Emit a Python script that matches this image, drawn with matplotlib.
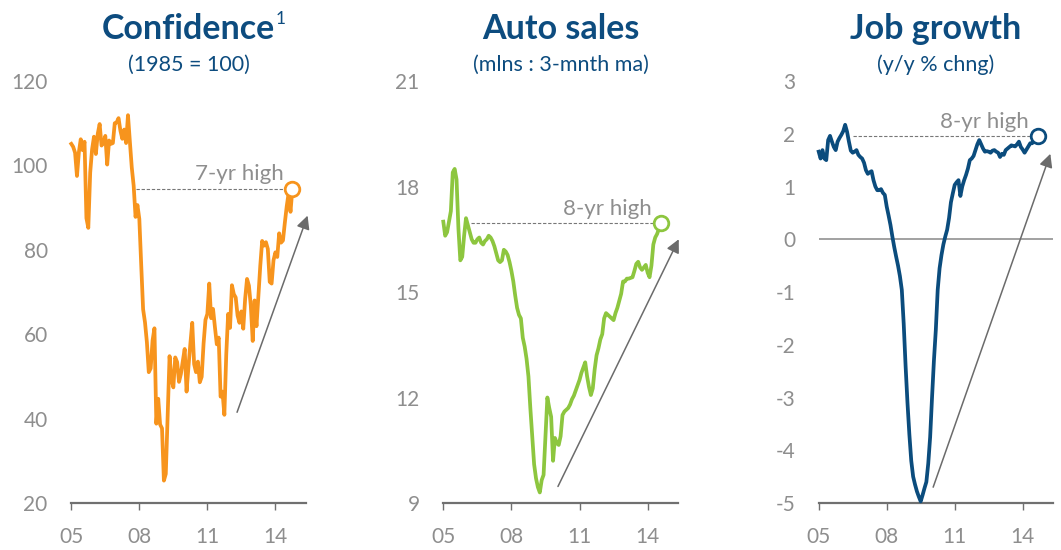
import matplotlib
matplotlib.use("Agg")
import matplotlib.pyplot as plt
import numpy as np

plt.rcParams['font.family'] = ['Lato', 'DejaVu Sans']

# ---------------- data (monthly, starting Jan 2005) ----------------
start_year = 2005

confidence = [
    105.1, 104.4, 103.0, 97.5, 103.1, 106.2, 103.6, 105.6, 87.5, 85.2, 98.3, 103.8,   # 2005
    106.8, 102.7, 107.5, 109.8, 104.7, 105.4, 107.0, 100.2, 105.9, 105.1, 105.3, 110.0,  # 2006
    110.2, 111.2, 108.2, 106.3, 108.5, 105.3, 111.9, 105.6, 99.5, 95.2, 87.8, 90.6,   # 2007
    87.3, 76.4, 65.9, 62.8, 58.1, 51.0, 51.9, 58.5, 61.4, 38.8, 44.7, 38.6,           # 2008
    37.7, 25.3, 26.9, 40.8, 54.8, 49.3, 47.4, 54.5, 53.4, 48.7, 50.6, 53.6,           # 2009
    56.5, 46.4, 52.3, 57.7, 62.7, 52.9, 51.0, 53.5, 48.6, 49.9, 57.8, 63.4,           # 2010
    64.8, 72.0, 63.8, 66.0, 61.7, 57.6, 59.2, 45.2, 46.4, 40.9, 55.2, 64.8,           # 2011
    61.5, 71.6, 69.5, 68.7, 64.4, 62.7, 65.4, 61.3, 68.4, 73.1, 71.5, 66.7,           # 2012
    58.4, 68.0, 61.9, 69.0, 76.2, 82.1, 81.0, 81.8, 80.2, 72.4, 72.0, 77.5,           # 2013
    79.4, 78.3, 83.9, 81.7, 82.2, 86.4, 90.3, 93.4, 89.0, 94.5,                       # 2014
]

auto_sales = [
    17.0, 16.6, 16.7, 17.0, 17.3, 18.4, 18.5, 18.2, 16.8, 15.9, 16.0, 16.6,           # 2005
    17.1, 16.9, 16.7, 16.5, 16.4, 16.4, 16.5, 16.55, 16.4, 16.35, 16.45, 16.5,        # 2006
    16.6, 16.55, 16.45, 16.3, 16.1, 15.9, 15.85, 15.9, 16.2, 16.15, 16.05, 15.85,     # 2007
    15.6, 15.3, 14.9, 14.55, 14.35, 14.25, 13.7, 13.45, 13.1, 12.6, 11.7, 10.9,       # 2008
    10.1, 9.7, 9.45, 9.3, 9.65, 9.8, 10.9, 12.0, 11.7, 11.45, 10.2, 10.85,            # 2009
    10.7, 10.65, 10.9, 11.5, 11.6, 11.65, 11.7, 11.8, 11.95, 12.05, 12.2, 12.35,      # 2010
    12.5, 12.7, 12.85, 13.0, 12.6, 12.3, 12.07, 12.26, 12.8, 13.2, 13.4, 13.65,       # 2011
    13.8, 14.25, 14.4, 14.35, 14.3, 14.25, 14.2, 14.4, 14.55, 14.75, 14.95, 15.3,     # 2012
    15.3, 15.38, 15.38, 15.4, 15.42, 15.6, 15.8, 15.86, 15.7, 15.63, 15.7, 15.77,     # 2013
    15.55, 15.42, 15.75, 16.35, 16.55, 16.65, 16.8, 16.95,                            # 2014
]

job_growth = [
    1.66, 1.53, 1.69, 1.53, 1.50, 1.88, 1.96, 1.85, 1.75, 1.69, 1.85, 1.92,           # 2005
    1.98, 2.05, 2.17, 2.04, 1.85, 1.68, 1.64, 1.66, 1.69, 1.60, 1.56, 1.53,           # 2006
    1.45, 1.31, 1.24, 1.27, 1.29, 1.12, 1.00, 0.93, 0.93, 0.95, 0.88, 0.84,           # 2007
    0.62, 0.45, 0.27, 0.05, -0.15, -0.33, -0.50, -0.70, -0.96, -1.60, -2.40, -3.10,   # 2008
    -3.70, -4.20, -4.50, -4.65, -4.78, -4.88, -4.97, -4.85, -4.72, -4.60, -4.25, -3.75,  # 2009
    -3.00, -2.30, -1.72, -0.96, -0.55, -0.30, -0.10, 0.05, 0.18, 0.40, 0.70, 0.87,    # 2010
    1.03, 1.08, 1.12, 0.82, 1.00, 1.12, 1.22, 1.34, 1.50, 1.53, 1.58, 1.69,           # 2011
    1.80, 1.88, 1.80, 1.72, 1.66, 1.67, 1.66, 1.64, 1.68, 1.69, 1.66, 1.64,           # 2012
    1.56, 1.62, 1.60, 1.69, 1.72, 1.75, 1.78, 1.77, 1.76, 1.80, 1.85, 1.75,           # 2013
    1.70, 1.64, 1.70, 1.76, 1.82, 1.82, 1.86, 1.90, 1.96,                             # 2014
]

titles = ["Confidence", "Auto sales", "Job growth"]
subtitles = ["(1985 = 100)", "(mlns : 3-mnth ma)", "(y/y % chng)"]
notes = ["7-yr high", "8-yr high", "8-yr high"]
x_ticks = [2005, 2008, 2011, 2014]
x_ticklabels = ["05", "08", "11", "14"]
y_ticks = [[20, 40, 60, 80, 100, 120], [9, 12, 15, 18, 21], [-5, -4, -3, -2, -1, 0, 1, 2, 3]]

# ---------------- style ----------------
colors = ["#F7941D", "#8DC63F", "#0B4C7D"]
title_blue = "#0D4C7F"
gray_txt = "#8E8E8E"
spine_gray = "#707070"
arrow_gray = "#6B6B6B"

W, H = 1061, 550
fig = plt.figure(figsize=(W / 100, H / 100), dpi=100)

ax_px = [(71.3, 306.0), (443.3, 678.3), (818.7, 1053.3)]
top_px, bot_px = 81.0, 503.0

series = [confidence, auto_sales, job_growth]
dash_start = [2007.87, 2006.24, 2006.5]
arrows = [((2012.31, 41.5), (2015.42, 88.1)),
          ((2010.05, 9.47), (2015.37, 16.5)),
          ((2010.05, -4.7), (2015.22, 1.62))]

for i in range(3):
    l, r = ax_px[i]
    ax = fig.add_axes([l / W, (H - bot_px) / H, (r - l) / W, (bot_px - top_px) / H])
    vals = series[i]
    t = start_year + np.arange(len(vals)) / 12.0
    yt = y_ticks[i]

    if i == 2:
        ax.axhline(0, color="#9A9A9A", lw=1.3, zorder=1)

    ax.plot(t, vals, color=colors[i], lw=2.7, solid_joinstyle="round", zorder=3, clip_on=False)
    ax.plot([dash_start[i], t[-1]], [vals[-1], vals[-1]], color="#777777", lw=0.8,
            ls=(0, (3, 1.6)), zorder=2)
    ax.plot([t[-1]], [vals[-1]], marker="o", ms=10.5, mfc="white", mec=colors[i],
            mew=2.0, zorder=5, clip_on=False)
    ax.text(t[-1] - 0.4, vals[-1] + (yt[-1] - yt[0]) * 0.01, notes[i], ha="right", va="bottom",
            fontsize=16, color=gray_txt)

    (x0, y0), (x1, y1) = arrows[i]
    ax.annotate("", xy=(x1, y1), xytext=(x0, y0), annotation_clip=False,
                arrowprops=dict(arrowstyle="-|>", color=arrow_gray, lw=1.1,
                                mutation_scale=20, shrinkA=0, shrinkB=0))

    ax.set_xlim(2005, 2015.35)
    ax.set_ylim(yt[0], yt[-1])
    ax.set_xticks(x_ticks)
    ax.set_xticklabels(x_ticklabels)
    ax.set_yticks(yt)
    ax.set_yticklabels([str(v) for v in yt])
    for s in ["top", "right", "left"]:
        ax.spines[s].set_visible(False)
    ax.spines["bottom"].set_color(spine_gray)
    ax.spines["bottom"].set_linewidth(1.6)
    ax.tick_params(axis="x", length=5, width=1.0, color=spine_gray, pad=12,
                   labelsize=15, labelcolor=gray_txt)
    ax.tick_params(axis="y", length=0, pad=17, labelsize=15, labelcolor=gray_txt)

    cx = (l + r) / 2 / W
    tt = fig.text(cx, 1 - 29 / H, titles[i], ha="center", va="center", fontsize=24.5,
                  fontweight="bold", color=title_blue)
    if i == 0:
        ax.annotate("1", xy=(1, 1), xycoords=tt, xytext=(0.5, 1.5), textcoords="offset points",
                    ha="left", va="top", fontsize=12.5, color=title_blue, annotation_clip=False)
    fig.text(cx, 1 - 65 / H, subtitles[i], ha="center", va="center", fontsize=15.5,
             color=title_blue)

fig.savefig("out.png", dpi=100)
